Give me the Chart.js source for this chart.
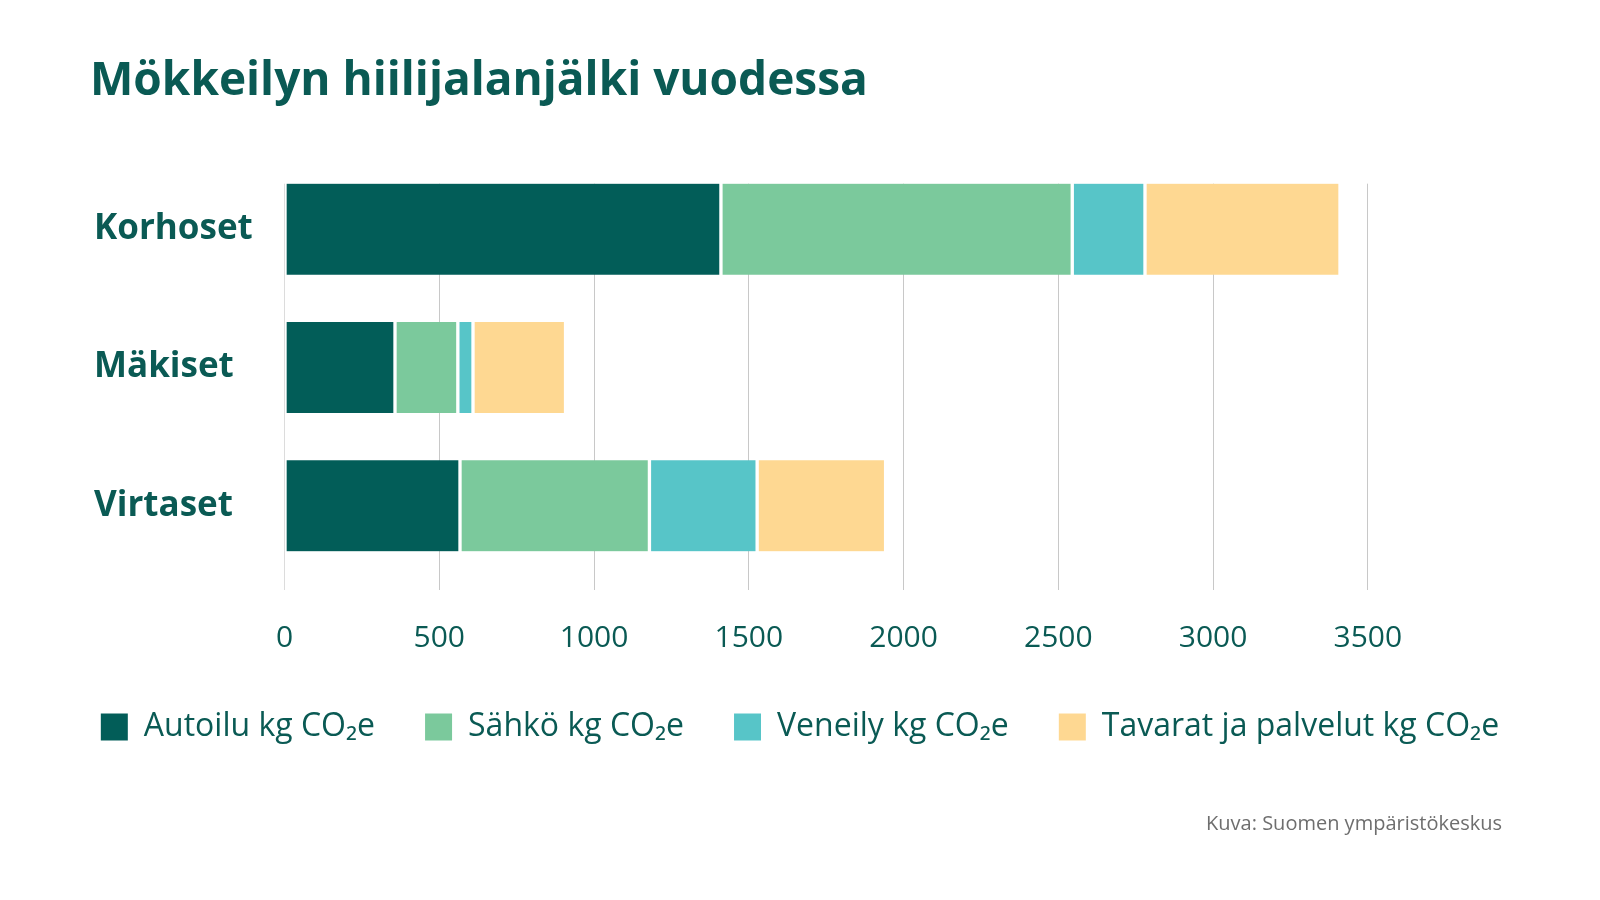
<!DOCTYPE html>
<html lang="fi">
<head>
<meta charset="utf-8">
<title>Mökkeilyn hiilijalanjälki vuodessa</title>
<script src="https://cdn.jsdelivr.net/npm/chart.js@4.4.1/dist/chart.umd.min.js"></script>
<style>
  html, body { margin: 0; padding: 0; background: #fff; }
  #wrap { position: relative; width: 1600px; height: 900px; font-family: 'Open Sans', 'Noto Sans', sans-serif; }
  #wrap canvas { position: absolute; left: 0; top: 0; }
  h1 {
    position: absolute; left: 90px; top: 50px; margin: 0;
    font-size: 46px; line-height: 55px; font-weight: 700; color: rgb(10, 90, 84);
  }
  .source {
    position: absolute; right: 98px; top: 811px;
    font-size: 20px; line-height: 24px; color: rgb(110, 110, 110);
  }
</style>
</head>
<body>
<div id="wrap">
  <canvas id="myChart" width="1600" height="900"></canvas>
  <h1>Mökkeilyn hiilijalanjälki vuodessa</h1>
  <div class="source">Kuva: Suomen ympäristökeskus</div>
</div>
<script>
/* Data */
const categories = ['Korhoset', 'Mäkiset', 'Virtaset'];
const autoilu = [1410, 357, 567];
const sahko = [1135, 203, 612];
const veneily = [235, 49, 348];
const tavarat = [630, 299, 415];
const seriesNames = ['Autoilu kg CO₂e', 'Sähkö kg CO₂e', 'Veneily kg CO₂e', 'Tavarat ja palvelut kg CO₂e'];
const xTickValues = [0, 500, 1000, 1500, 2000, 2500, 3000, 3500];

/* Colors */
let colorDark = 'rgb(2, 93, 88)';
let colorGreen = 'rgb(123, 201, 156)';
let colorTurq = 'rgb(87, 197, 200)';
let colorSand = 'rgb(254, 216, 146)';
let colorText = 'rgb(10, 90, 84)';
let colorGrid = 'rgb(200, 200, 200)';

const fontFamily = "'Open Sans', 'Noto Sans', sans-serif";

function makeSet(label, values, color) {
  return {
    label,
    data: values,
    backgroundColor: color,
    borderColor: '#ffffff',
    borderWidth: { top: 0, bottom: 0, left: 2, right: 2 },
    borderSkipped: false,
    barThickness: 91,
  };
}

// gridlines start at the top of the first bar, not at the top of the chart area
const gridTopTrim = {
  id: 'gridTopTrim',
  beforeDatasetsDraw(chart) {
    const bar = chart.getDatasetMeta(0).data[0];
    if (!bar) return;
    const area = chart.chartArea;
    const barTop = bar.y - bar.height / 2;
    const c = chart.ctx;
    c.save();
    c.fillStyle = '#ffffff';
    c.fillRect(area.left - 2, area.top - 1, area.right - area.left + 4, barTop - area.top + 1);
    c.restore();
  },
};

const data = {
  labels: categories,
  datasets: [
    makeSet(seriesNames[0], autoilu, colorDark),
    makeSet(seriesNames[1], sahko, colorGreen),
    makeSet(seriesNames[2], veneily, colorTurq),
    makeSet(seriesNames[3], tavarat, colorSand),
  ],
};

const chartConfig = {
  type: 'bar',
  data,
  plugins: [gridTopTrim],
  options: {
    indexAxis: 'y',
    responsive: false,
    animation: false,
    layout: { padding: { left: 0, right: 0, top: 160, bottom: 147 } },
    scales: {
      x: {
        stacked: true,
        min: 0,
        max: 4250,
        afterBuildTicks(scale) {
          scale.ticks = xTickValues.map(v => ({ value: v }));
        },
        afterFit(scale) {
          scale.height = 86;
        },
        border: { display: false },
        grid: {
          color: ctx => (ctx.tick && ctx.tick.value === 0 ? 'rgb(220, 220, 220)' : colorGrid),
          lineWidth: 1,
          drawTicks: true,
          tickLength: 15,
        },
        ticks: {
          color: colorText,
          padding: 30,
          font: { family: fontFamily, size: 30 },
          maxRotation: 0,
          callback: v => String(v),
        },
      },
      y: {
        stacked: true,
        afterFit(scale) {
          scale.width = 190.5;
        },
        border: { display: false },
        grid: { display: false },
        ticks: {
          color: colorText,
          crossAlign: 'far',
          font: { family: fontFamily, size: 35, weight: 'bold' },
        },
      },
      // empty spacer on the far left so the labels start at x≈94
      ySpace: {
        type: 'category',
        position: 'left',
        weight: 1,
        afterFit(scale) {
          scale.width = 94;
        },
        border: { display: false },
        grid: { display: false },
        ticks: { display: false },
      },
    },
    plugins: {
      legend: {
        position: 'bottom',
        labels: {
          color: colorText,
          boxWidth: 27,
          boxHeight: 27,
          padding: 50,
          font: { family: fontFamily, size: 32 },
          generateLabels(chart) {
            const items = Chart.defaults.plugins.legend.labels.generateLabels(chart);
            items.forEach(it => { it.lineWidth = 0; it.strokeStyle = it.fillStyle; });
            return items;
          },
        },
      },
      tooltip: { enabled: false },
    },
  },
};

const ctx = document.getElementById('myChart').getContext('2d');
const myChart = new Chart(ctx, chartConfig);
</script>
</body>
</html>
